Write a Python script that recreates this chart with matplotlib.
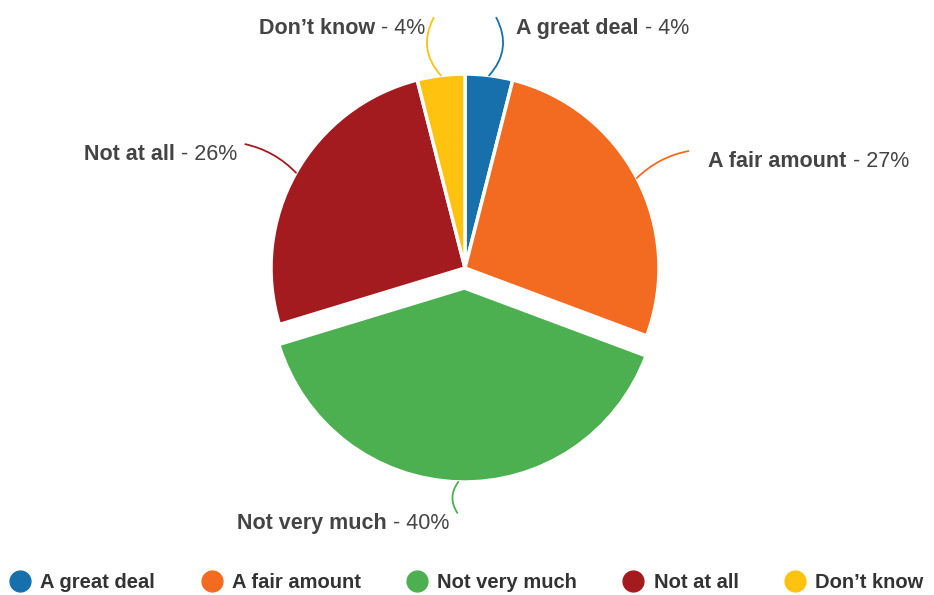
import numpy as np
import matplotlib.pyplot as plt
from matplotlib.lines import Line2D

labels = ['A great deal', 'A fair amount', 'Not very much', 'Not at all', 'Don\u2019t know']
values = [4, 27, 40, 26, 4]
colors = ['#1770ab', '#f26b21', '#4caf50', '#a31b1e', '#ffc20e']
explode = [0, 0, 20, 0, 0]  # pie() offsets in data units (pixels here)

plt.rcParams['font.family'] = ['Liberation Sans', 'DejaVu Sans']

W, H = 934, 595
fig = plt.figure(figsize=(W / 100, H / 100), dpi=100)
ax = fig.add_axes([0, 0, 1, 1])

cx, cy, R = 465, H - 268, 194
wedges, _ = ax.pie(values, colors=colors, startangle=90, counterclock=False,
                   explode=explode, center=(cx, cy), radius=R,
                   wedgeprops=dict(edgecolor='white', linewidth=2.5))
ax.set_xlim(0, W)
ax.set_ylim(0, H)
ax.set_aspect('equal')
ax.axis('off')

txt_color = '#444444'
fs = 15.5
reach = [1.3, 1.3, 1.16, 1.3, 1.3]
bends = [-0.35, 0.15, -0.35, -0.15, 0.35]
for w, lab, v, col, k, rad in zip(wedges, labels, values, colors, reach, bends):
    ang = np.deg2rad((w.theta1 + w.theta2) / 2)
    wx, wy = w.center
    d = np.array([np.cos(ang), np.sin(ang)])
    p0 = np.array([wx, wy]) + d * w.r
    p1 = np.array([wx, wy]) + d * w.r * k
    ax.annotate('', xy=p0, xytext=p1,
                arrowprops=dict(arrowstyle='-', color=col, lw=1.3,
                                shrinkA=0, shrinkB=0,
                                connectionstyle='arc3,rad=%s' % rad))
    pct = ' - %d%%' % v
    if d[0] >= 0:
        t = ax.text(p1[0] + 20, p1[1] - 21, lab, fontsize=fs, fontweight='bold',
                    color=txt_color, ha='left', va='bottom')
        ax.annotate(pct, xy=(1, 0), xycoords=t, fontsize=fs, color=txt_color,
                    ha='left', va='bottom')
    else:
        t = ax.text(p1[0] - 8, p1[1] - 21, pct, fontsize=fs, color=txt_color,
                    ha='right', va='bottom')
        ax.annotate(lab, xy=(0, 0), xycoords=t, fontsize=fs, fontweight='bold',
                    color=txt_color, ha='right', va='bottom')

handles = [Line2D([], [], marker='o', linestyle='', markersize=15,
                  markerfacecolor=c, markeredgecolor=c) for c in colors]
ax.legend(handles, labels, ncol=5, loc='lower left', bbox_to_anchor=(-0.002, -0.016),
          frameon=False, handletextpad=0.5, columnspacing=2.3, handlelength=1.0,
          prop=dict(size=14.5, weight='bold'), labelcolor='#333333',
          borderaxespad=0.2)

fig.savefig('out.png', dpi=100)
